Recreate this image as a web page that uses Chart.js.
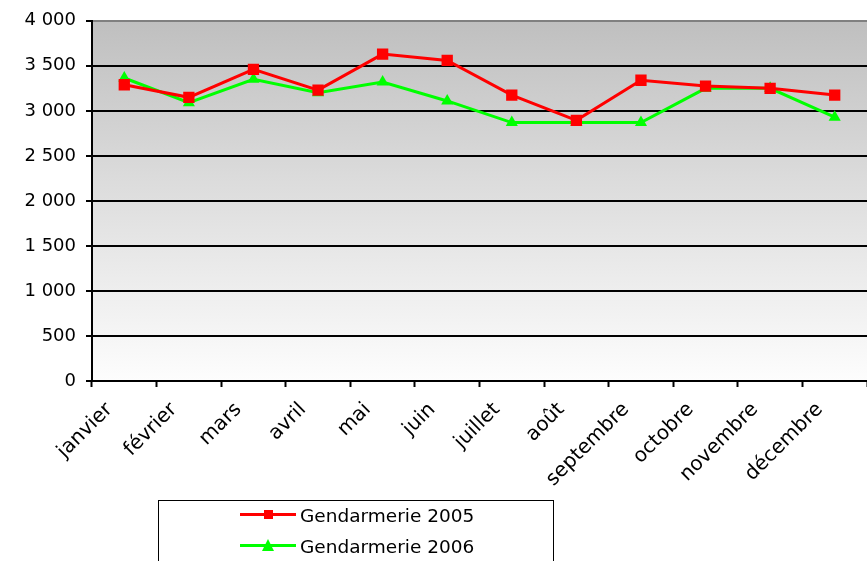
<!DOCTYPE html>
<html>
<head>
<meta charset="utf-8">
<script src="https://cdn.jsdelivr.net/npm/chart.js@4/dist/chart.umd.min.js"></script>
<style>
  html, body { margin: 0; padding: 0; background: #fff; overflow: hidden; }
  #wrap { position: relative; width: 867px; height: 561px; overflow: hidden; }
  #legend {
    position: absolute; left: 158px; top: 500px; width: 396px; height: 90px;
    border: 1px solid #000; box-sizing: border-box;
    font-family: "DejaVu Sans", sans-serif; font-size: 18.5px; color: #000;
  }
  .item { position: absolute; left: 81px; height: 20px; display: flex; align-items: center; }
  .sym { position: relative; width: 56px; height: 20px; margin-right: 4px; }
  .sym .ln { position: absolute; left: 0; right: 0; top: 8px; height: 3px; }
</style>
</head>
<body>
<div id="wrap">
  <canvas id="chart" width="875" height="561"></canvas>
  <div id="legend"></div>
</div>
<script>
const months = ['janvier', 'février', 'mars', 'avril', 'mai', 'juin', 'juillet', 'août',
    'septembre', 'octobre', 'novembre', 'décembre'];
const gend2005 = [3290, 3150, 3460, 3230, 3630, 3560, 3175, 2895, 3340, 3275, 3250, 3175];
const gend2006 = [3365, 3090, 3350, 3200, 3320, 3110, 2870, 2870, 2870, 3250, 3250, 2930];
const yTicks = [0, 500, 1000, 1500, 2000, 2500, 3000, 3500, 4000];

function fmt(v) {
    // "4 000" style, space as thousands separator
    if (v < 1000) return String(v);
    return Math.floor(v / 1000) + ' ' + String(v % 1000).padStart(3, '0');
}

const plotBg = {
    id: 'plotBg',
    beforeDraw(chart) {
        const { ctx, chartArea: a } = chart;
        const g = ctx.createLinearGradient(0, a.top, 0, a.bottom);
        g.addColorStop(0, '#bfbfbf');
        g.addColorStop(0.45, '#dcdcdc');
        g.addColorStop(1, '#fdfdfd');
        ctx.save();
        ctx.fillStyle = g;
        ctx.fillRect(a.left, a.top, a.right - a.left, a.bottom - a.top);
        ctx.restore();
    }
};

const ctx = document.getElementById('chart').getContext('2d');
const chart = new Chart(ctx, {
    type: 'line',
    data: {
        labels: months,
        datasets: [{
            label: 'Gendarmerie 2005',
            data: gend2005,
            borderColor: '#ff0000',
            backgroundColor: '#ff0000',
            borderWidth: 3,
            pointStyle: 'rect',
            pointRadius: 8,
            pointBorderWidth: 0,
            tension: 0
        }, {
            label: 'Gendarmerie 2006',
            data: gend2006,
            borderColor: '#00ff00',
            backgroundColor: '#00ff00',
            borderWidth: 3,
            pointStyle: 'triangle',
            pointRadius: 7,
            pointBorderWidth: 0,
            tension: 0
        }]
    },
    options: {
        responsive: false,
        animation: false,
        layout: { padding: { top: 17, left: 0, right: 0, bottom: 0 } },
        plugins: {
            legend: { display: false },
            tooltip: { enabled: false }
        },
        scales: {
            x: {
                offset: true,
                grid: {
                    offset: true,
                    drawOnChartArea: false,
                    drawTicks: true,
                    tickLength: 6,
                    tickWidth: 2,
                    tickColor: '#000'
                },
                border: { display: true, color: '#000', width: 2 },
                ticks: {
                    color: '#000',
                    font: { family: 'DejaVu Sans', size: 20 },
                    maxRotation: 45,
                    minRotation: 45,
                    autoSkip: false,
                    labelOffset: -15,
                    padding: 11
                },
                afterFit(scale) {
                    scale.height = 180;
                }
            },
            y: {
                min: 0,
                max: 4000,
                afterBuildTicks(scale) { scale.ticks = yTicks.map(v => ({ value: v })); },
                grid: {
                    color: c => (c.tick && c.tick.value === 4000) ? '#808080' : '#000',
                    lineWidth: 2,
                    drawTicks: true,
                    tickLength: 6,
                    tickColor: '#000'
                },
                border: { display: true, color: '#000', width: 2 },
                ticks: {
                    color: '#000',
                    font: { family: 'DejaVu Sans', size: 18 },
                    padding: 10,
                    callback: v => fmt(v)
                },
                afterFit(scale) { scale.width = 92; }
            }
        }
    },
    plugins: [plotBg]
});

// legend box built from the datasets
const legend = document.getElementById('legend');
chart.data.datasets.forEach((ds, i) => {
    const item = document.createElement('div');
    item.className = 'item';
    item.style.top = (4 + i * 31) + 'px';
    const sym = document.createElement('div');
    sym.className = 'sym';
    const ln = document.createElement('div');
    ln.className = 'ln';
    ln.style.background = ds.borderColor;
    sym.appendChild(ln);
    const mk = document.createElement('div');
    mk.style.position = 'absolute';
    if (ds.pointStyle === 'rect') {
        mk.style.left = '24px'; mk.style.top = '5px';
        mk.style.width = '9px'; mk.style.height = '9px';
        mk.style.background = ds.borderColor;
    } else {
        mk.style.left = '22px'; mk.style.top = '3px';
        mk.style.width = '0'; mk.style.height = '0';
        mk.style.borderLeft = '6px solid transparent';
        mk.style.borderRight = '6px solid transparent';
        mk.style.borderBottom = '12px solid ' + ds.borderColor;
    }
    sym.appendChild(mk);
    const txt = document.createElement('span');
    txt.textContent = ds.label;
    item.appendChild(sym);
    item.appendChild(txt);
    legend.appendChild(item);
});
</script>
</body>
</html>
